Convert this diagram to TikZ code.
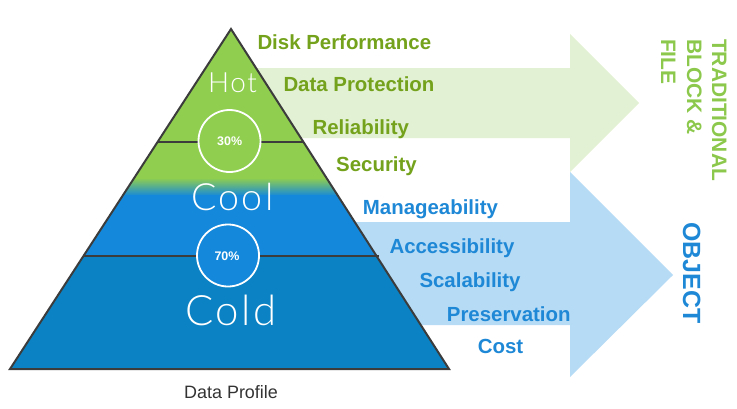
\documentclass[tikz,border=0pt]{standalone}
\usepackage{fontspec}
\setmainfont{Liberation Sans}
\newfontfamily\thinfont[LetterSpace=6]{Lato Light}
\definecolor{pgreen}{HTML}{8FCE4F}
\definecolor{pblue}{HTML}{1488DB}
\definecolor{pcold}{HTML}{0A82C4}
\definecolor{agreen}{HTML}{E2F0D3}
\definecolor{ablue}{HTML}{B6DBF4}
\definecolor{lgreen}{HTML}{74A21C}
\definecolor{lblue}{HTML}{1E88D6}
\definecolor{tgreen}{HTML}{8CC84B}
\definecolor{edgegray}{HTML}{3C3C3C}
\begin{document}
\begin{tikzpicture}[x=1bp,y=-1bp,
  edge/.style={draw=edgegray, line width=2bp, line join=miter},
  lbl/.style={anchor=base west, inner sep=0pt, font=\bfseries\fontsize{20.5}{24}\selectfont},
  tier/.style={anchor=base, inner sep=0pt, text=white},
  pct/.style={circle, draw=white, line width=1.8bp, minimum size=62bp, inner sep=0pt},
  pcttext/.style={anchor=base, inner sep=0pt, text=white, font=\bfseries\fontsize{12.5}{14}\selectfont},
  vert/.style={anchor=base west, inner sep=0pt, rotate=-90}]
\useasboundingbox (0,0) rectangle (737,408);
% arrows
\fill[agreen] (240,68) -- (570,68) -- (570,34) -- (639,103) -- (570,172) -- (570,138) -- (240,138) -- cycle;
\fill[ablue] (340,222) -- (570,222) -- (570,172) -- (673,275) -- (570,377) -- (570,325) -- (340,325) -- cycle;
% pyramid
\begin{scope}
\clip (231,29) -- (449,369) -- (10,369) -- cycle;
\fill[pgreen] (0,20) rectangle (460,179);
\shade[top color=pgreen, bottom color=pblue] (0,178) rectangle (460,196);
\fill[pblue] (0,195) rectangle (460,256);
\fill[pcold] (0,256) rectangle (460,370);
\end{scope}
\draw[edge] (231,29) -- (449,369) -- (10,369) -- cycle;
\draw[edge] (157.6,142) -- (303.5,142);
\draw[edge] (83.5,256) -- (378.7,256);
\node[pct, fill=pgreen] (c30) at (229.5,141) {};
\node[pct, fill=pblue] (c70) at (228,255.5) {};
\node[pcttext] (t30) at (229.7,145.7) {30\%};
\node[pcttext] (t70) at (227,260) {70\%};
\node[tier, font=\thinfont\fontsize{28}{30}\selectfont] (hot) at (232.5,92.7) {Hot};
\node[tier, font=\thinfont\fontsize{37.7}{40}\selectfont] (cool) at (232.5,210) {Cool};
\node[tier, font=\thinfont\fontsize{42}{44}\selectfont] (cold) at (231,325) {Cold};
% labels
\node[lbl, text=lgreen] (l1) at (257.3,49.5) {Disk Performance};
\node[lbl, text=lgreen] (l2) at (283.3,91.7) {Data Protection};
\node[lbl, text=lgreen] (l3) at (312.3,134.3) {Reliability};
\node[lbl, text=lgreen] (l4) at (336,171.7) {Security};
\node[lbl, text=lblue] (l5) at (362.7,214) {Manageability};
\node[lbl, text=lblue] (l6) at (389.3,253.3) {Accessibility};
\node[lbl, text=lblue] (l7) at (419.3,287.7) {Scalability};
\node[lbl, text=lblue] (l8) at (446.7,321.7) {Preservation};
\node[lbl, text=lblue] (l9) at (477.7,353.3) {Cost};
\node[anchor=base west, inner sep=0pt, text=black!80, font=\fontsize{18}{20}\selectfont] (dp) at (184,398) {Data Profile};
% vertical titles
\node[vert, text=tgreen, font=\bfseries\fontsize{21}{24}\selectfont] (v1) at (712,39) {TRADITIONAL};
\node[vert, text=tgreen, font=\bfseries\fontsize{21}{24}\selectfont] (v2) at (687,39) {BLOCK \&};
\node[vert, text=tgreen, font=\bfseries\fontsize{21}{24}\selectfont] (v3) at (661,39) {FILE};
\node[vert, text=lblue, font=\bfseries\fontsize{25}{28}\selectfont] (obj) at (683,222) {OBJECT};
\end{tikzpicture}
\end{document}
